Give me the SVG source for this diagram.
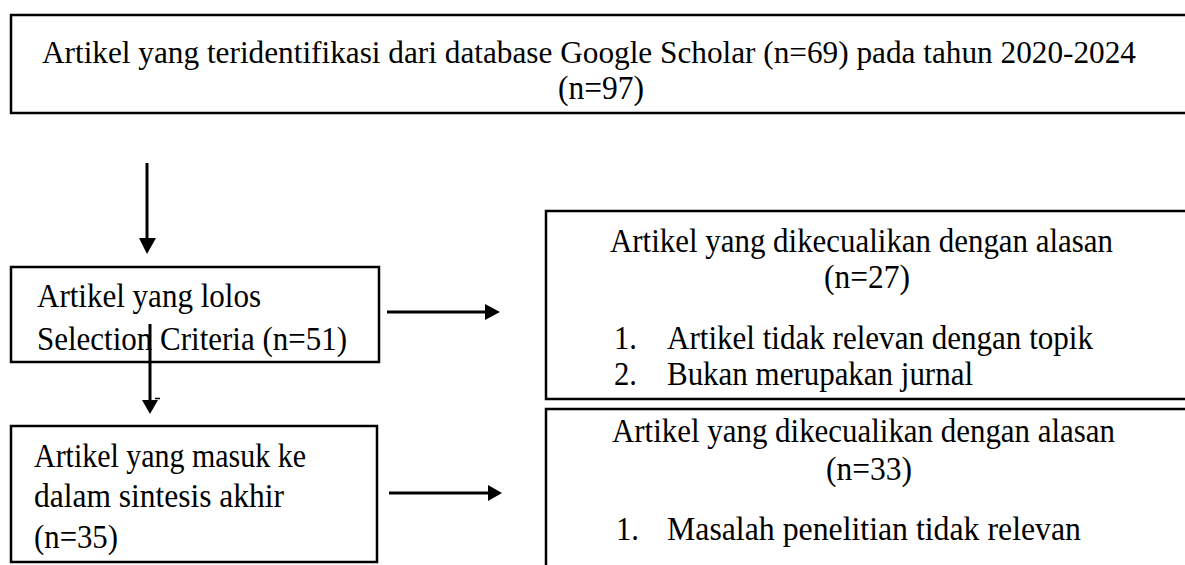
<svg xmlns="http://www.w3.org/2000/svg" width="1185" height="565" viewBox="0 0 1185 565">
<style>
text{font-family:"Liberation Serif","Times New Roman",serif;font-size:33px;fill:#000}
.box{fill:none;stroke:#000;stroke-width:2.5}
.shaft{fill:none;stroke:#000;stroke-width:3}
.head{fill:#000;stroke:none}
</style>
<rect width="1185" height="565" fill="#fff"/>
<g id="node-identified">
<path class="box" d="M1190,15 H11 V113 H1190"/>
<text x="42" y="63" style="font-size:31px" textLength="1094" lengthAdjust="spacingAndGlyphs">Artikel yang teridentifikasi dari database Google Scholar (n=69) pada tahun 2020-2024</text>
<text x="558" y="99" textLength="86" lengthAdjust="spacingAndGlyphs">(n=97)</text>
</g>
<g id="node-selection">
<rect class="box" x="11" y="267" width="368" height="95"/>
<text x="37" y="307" textLength="224" lengthAdjust="spacingAndGlyphs">Artikel yang lolos</text>
<text x="37" y="350" textLength="310" lengthAdjust="spacingAndGlyphs">Selection Criteria (n=51)</text>
</g>
<g id="node-final">
<rect class="box" x="11" y="426" width="366" height="136"/>
<text x="34" y="467" textLength="272" lengthAdjust="spacingAndGlyphs">Artikel yang masuk ke</text>
<text x="34" y="507" textLength="250" lengthAdjust="spacingAndGlyphs">dalam sintesis akhir</text>
<text x="34" y="548" textLength="84" lengthAdjust="spacingAndGlyphs">(n=35)</text>
</g>
<g id="node-excluded-1">
<path class="box" d="M1190,211 H546 V399 H1190"/>
<text x="610" y="252" textLength="503" lengthAdjust="spacingAndGlyphs">Artikel yang dikecualikan dengan alasan</text>
<text x="824" y="288" textLength="86" lengthAdjust="spacingAndGlyphs">(n=27)</text>
<text x="614" y="349" textLength="23" lengthAdjust="spacingAndGlyphs">1.</text>
<text x="667" y="349" textLength="426" lengthAdjust="spacingAndGlyphs">Artikel tidak relevan dengan topik</text>
<text x="614" y="385" textLength="23" lengthAdjust="spacingAndGlyphs">2.</text>
<text x="667" y="385" textLength="306" lengthAdjust="spacingAndGlyphs">Bukan merupakan jurnal</text>
</g>
<g id="node-excluded-2">
<path class="box" d="M1190,409 H546 V570"/>
<text x="612" y="442" textLength="503" lengthAdjust="spacingAndGlyphs">Artikel yang dikecualikan dengan alasan</text>
<text x="826" y="480" textLength="86" lengthAdjust="spacingAndGlyphs">(n=33)</text>
<text x="616" y="540" textLength="23" lengthAdjust="spacingAndGlyphs">1.</text>
<text x="667" y="540" textLength="414" lengthAdjust="spacingAndGlyphs">Masalah penelitian tidak relevan</text>
</g>
<g id="connectors">
<line class="shaft" x1="147" y1="163" x2="147" y2="240"/>
<polygon class="head" points="139,238 156,238 147,254"/>
<line class="shaft" x1="387" y1="312" x2="487" y2="312"/>
<polygon class="head" points="485,304 485,320 500,312"/>
<line class="shaft" x1="150" y1="324" x2="150" y2="402"/>
<polygon class="head" points="142,400 158,400 150,414"/>
<line x1="155" y1="398.5" x2="160" y2="398.5" stroke="#000" stroke-width="1.5"/>
<line class="shaft" x1="389" y1="493" x2="490" y2="493"/>
<polygon class="head" points="488,485 488,501 502,493"/>
</g>
</svg>
